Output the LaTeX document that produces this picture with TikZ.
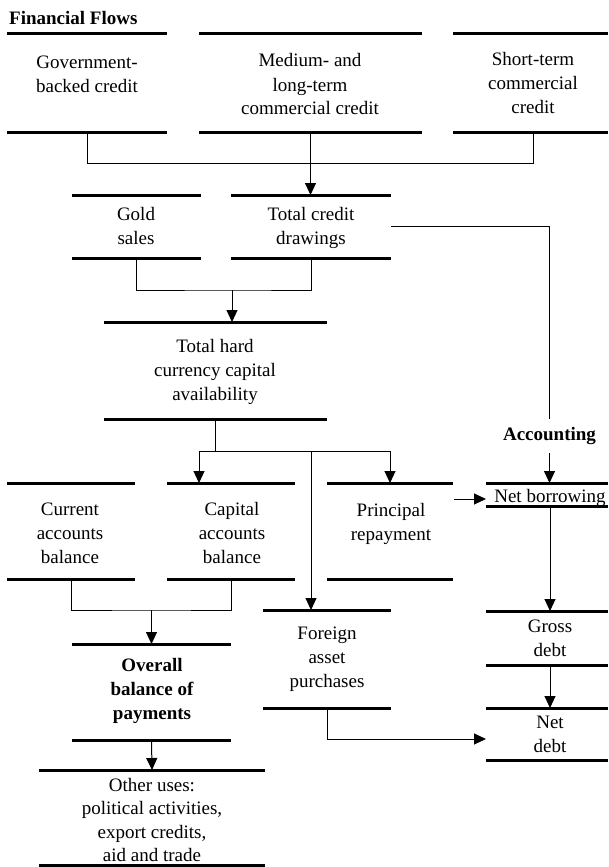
\documentclass[tikz,border=0pt]{standalone}
\usepackage{fontspec}
\setmainfont{Liberation Serif}
\usetikzlibrary{arrows.meta}
\tikzset{
  bar/.style={line width=3pt},
  frame/.style={rectangle, inner sep=0pt, outer sep=0pt,
    append after command={(\tikzlastnode.north west) edge[bar] (\tikzlastnode.north east)
      (\tikzlastnode.south west) edge[bar] (\tikzlastnode.south east)}},
  txt/.style={align=center, inner sep=0pt, font=\fontsize{19}{24}\selectfont},
  btxt/.style={align=center, inner sep=0pt, font=\fontsize{19}{24}\selectfont\bfseries},
  conn/.style={line width=1pt},
  arr/.style={conn, -{Triangle[width=11pt,length=12pt]}},
}
\begin{document}
\begin{tikzpicture}[x=1pt,y=-1pt]
\useasboundingbox (0,0) rectangle (608,867);
% title
\node[btxt, anchor=west] (title) at (9,18) {Financial Flows};
% row 1
\node[frame, minimum width=160pt, minimum height=98pt] (gov) at (87,83) {};
\node[txt] (govt) at (87,74.5) {Government-\\backed credit};
\node[frame, minimum width=223pt, minimum height=98pt] (med) at (310.5,83) {};
\node[txt] (medt) at (310,84.5) {Medium- and\\long-term\\commercial credit};
\node[frame, minimum width=155pt, minimum height=98pt] (sht) at (530.5,83) {};
\node[txt] (shtt) at (533,83.5) {Short-term\\commercial\\credit};
% row 2
\node[frame, minimum width=129pt, minimum height=63pt] (gold) at (136.5,226.5) {};
\node[txt] (goldt) at (136,225.5) {Gold\\sales};
\node[frame, minimum width=160pt, minimum height=63pt] (tcd) at (311,226.5) {};
\node[txt] (tcdt) at (311,227.5) {Total credit\\drawings};
% row 3
\node[frame, minimum width=223pt, minimum height=97pt] (thc) at (215.5,370.5) {};
\node[txt] (thct) at (215,372) {Total hard\\currency capital\\availability};
% accounting
\node[btxt, inner ysep=8.5pt] (acc) at (549.5,436) {Accounting};
% row 4
\node[frame, minimum width=128pt, minimum height=96pt] (cur) at (71,531) {};
\node[txt] (curt) at (70,533) {Current\\accounts\\balance};
\node[frame, minimum width=128pt, minimum height=96pt] (cap) at (231,531) {};
\node[txt] (capt) at (232,533) {Capital\\accounts\\balance};
\node[frame, minimum width=126pt, minimum height=96pt] (pri) at (390,531) {};
\node[txt] (prit) at (391,523.5) {Principal\\repayment};
\node[frame, minimum width=122pt, minimum height=23pt] (nb) at (547,494.5) {};
\node[txt] (nbt) at (550,498) {Net borrowing};
% lower
\node[frame, minimum width=128pt, minimum height=98pt] (for) at (327,659) {};
\node[txt] (fort) at (327,659.7) {Foreign\\asset\\purchases};
\node[frame, minimum width=122pt, minimum height=54pt] (gro) at (547,638) {};
\node[txt] (grot) at (550,638) {Gross\\debt};
\node[frame, minimum width=122pt, minimum height=52pt] (nd) at (547,734) {};
\node[txt] (ndt) at (550,734) {Net\\debt};
\node[frame, minimum width=159pt, minimum height=96pt] (ovr) at (151.5,692) {};
\node[btxt] (ovrt) at (152,691) {Overall\\balance of\\payments};
\node[frame, minimum width=226pt, minimum height=95pt] (oth) at (152,817.5) {};
\node[txt, font=\fontsize{19}{23.3}\selectfont] (otht) at (152,820) {Other uses:\\political activities,\\export credits,\\aid and trade};
% connectors
\coordinate (j1) at (533,163);
\draw[conn] (gov.south) |- (j1) -- (j1 |- sht.south);
\draw[arr] (med.south) -- (med.south |- tcd.north);
\coordinate (j2) at (232,290);
\draw[conn] (gold.south) |- (j2) -| (tcd.south);
\draw[arr] (j2) -- (j2 |- thc.north);
\draw[conn] (tcd.east) -| (acc.north);
\draw[arr] (acc.south) -- (acc.south |- nb.north);
\coordinate (bl) at (199,451);
\coordinate (bm) at (311,451);
\draw[conn] (thc.south) -- (thc.south |- bl);
\draw[conn] (bl) -- (bl -| pri.north);
\draw[arr] (bl) -- (bl |- cap.north);
\draw[arr] (bl -| pri.north) -- (pri.north);
\draw[arr] (bm) -- (bm |- for.north);
\coordinate (nbin) at (454,499);
\draw[arr] (nbin) -- (nbin -| nb.west);
\coordinate (rc) at (550,0);
\draw[arr] (rc |- nb.south) -- (rc |- gro.north);
\draw[arr] (rc |- gro.south) -- (rc |- nd.north);
\draw[arr] (for.south) |- ([yshift=-5pt]nd.west);
\coordinate (j5) at (151.5,610);
\draw[conn] (cur.south) |- (j5) -| (cap.south);
\draw[arr] (j5) -- (ovr.north);
\draw[arr] (ovr.south) -- (oth.north);
\end{tikzpicture}
\end{document}
